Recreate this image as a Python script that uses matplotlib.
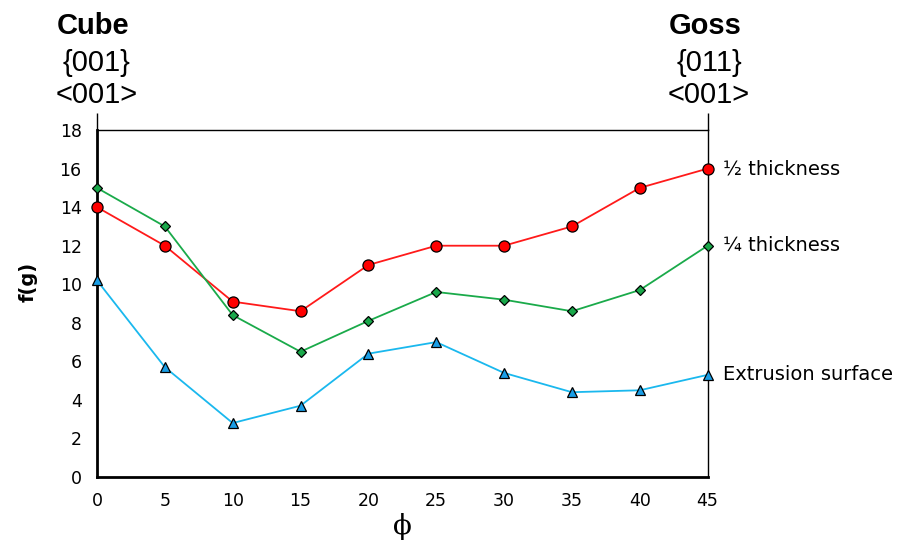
import matplotlib
matplotlib.use("Agg")
import matplotlib.pyplot as plt

# orientation angle phi and orientation density f(g) for each sample position
phi = [0, 5, 10, 15, 20, 25, 30, 35, 40, 45]
half_thickness = [14.0, 12.0, 9.1, 8.6, 11.0, 12.0, 12.0, 13.0, 15.0, 16.0]
quarter_thickness = [15.0, 13.0, 8.4, 6.5, 8.1, 9.6, 9.2, 8.6, 9.7, 12.0]
extrusion_surface = [10.2, 5.7, 2.8, 3.7, 6.4, 7.0, 5.4, 4.4, 4.5, 5.3]
series_names = ["½ thickness", "¼ thickness", "Extrusion surface"]
yticks = [0, 2, 4, 6, 8, 10, 12, 14, 16, 18]

fig = plt.figure(figsize=(8.98, 5.43), dpi=100)
ax = fig.add_axes([0.108, 0.1215, 0.680, 0.639])

ax.plot(phi, half_thickness, color="#ff1a1a", lw=1.3, marker="o", ms=8,
        mfc="#ff0000", mec="black", mew=0.9, clip_on=False, zorder=3)
ax.plot(phi, quarter_thickness, color="#1aaa4a", lw=1.3, marker="D", ms=5.5,
        mfc="#1aa84a", mec="black", mew=0.9, clip_on=False, zorder=3)
ax.plot(phi, extrusion_surface, color="#1ab8ee", lw=1.3, marker="^", ms=7.5,
        mfc="#1a9ee6", mec="black", mew=0.9, clip_on=False, zorder=3)

ax.set_xlim(0, 45)
ax.set_ylim(0, 18)
ax.set_xticks(phi)
ax.set_yticks(yticks)
ax.tick_params(length=0, labelsize=12.5, pad=11)
for lab in ax.get_xticklabels() + ax.get_yticklabels():
    lab.set_family("DejaVu Sans")

for side in ["left", "bottom"]:
    ax.spines[side].set_linewidth(2.0)
for side in ["top", "right"]:
    ax.spines[side].set_linewidth(1.0)

# short stems above the frame at the two ideal orientations
ax.vlines([0, 45], 18, 18.9, colors="black", lw=1.0, clip_on=False)

for x, name, plane, direction in [(-0.3, "Cube", "{001}", "<001>"),
                                  (44.8, "Goss", "{011}", "<001>")]:
    ax.text(x, 23.4, name, ha="center", va="center", fontsize=21,
            fontweight="bold", family="Liberation Sans", clip_on=False)
    ax.text(x + 0.3, 21.5, plane, ha="center", va="center", fontsize=21,
            family="Liberation Sans", clip_on=False)
    ax.text(x + 0.3, 19.8, direction, ha="center", va="center", fontsize=21,
            family="Liberation Sans", clip_on=False)

for values, name in zip([half_thickness, quarter_thickness, extrusion_surface],
                        series_names):
    ax.annotate(name, xy=(phi[-1], values[-1]), xytext=(11, 0),
                textcoords="offset points", ha="left", va="center",
                fontsize=14, annotation_clip=False)

ax.set_ylabel("f(g)", fontsize=14, fontweight="bold")
ax.yaxis.set_label_coords(-0.098, 0.562)
ax.set_xlabel("ϕ", fontsize=20, family="DejaVu Serif", labelpad=2)

fig.savefig("out.png", dpi=100)
